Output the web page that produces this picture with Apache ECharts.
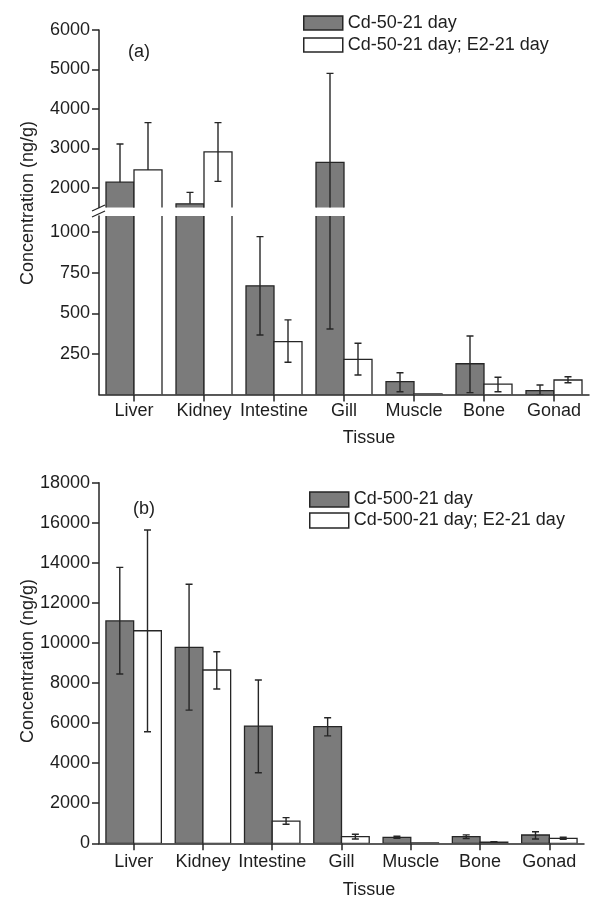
<!DOCTYPE html>
<html><head><meta charset="utf-8">
<script src="https://cdn.jsdelivr.net/npm/echarts@6/dist/echarts.min.js"></script>
<style>html,body{margin:0;padding:0;background:#fff}#c{width:594px;height:899px}</style>
</head><body><div id="c"></div>
<script>
// ---- data ----
const categories = ['Liver', 'Kidney', 'Intestine', 'Gill', 'Muscle', 'Bone', 'Gonad'];

// panel (a)
const nameA1 = 'Cd-50-21 day';
const nameA2 = 'Cd-50-21 day; E2-21 day';
const cd50      = [2140, 1590, 670, 2640, 80, 190, 25];
const cd50Low   = [2140, 1590, 367, 404, 18, 12, 0];
const cd50High  = [3110, 1880, 973, 4900, 135, 361, 59];
const cd50E2     = [2450, 2910, 326, 217, 5, 65, 90];
const cd50E2Low  = [2450, 2160, 199, 121, 5, 18, 73];
const cd50E2High = [3650, 3650, 460, 316, 5, 107, 110];

// panel (b)
const nameB1 = 'Cd-500-21 day';
const nameB2 = 'Cd-500-21 day; E2-21 day';
const cd500      = [11100, 9780, 5850, 5820, 300, 330, 415];
const cd500Low   = [8450, 6650, 3520, 5360, 250, 240, 215];
const cd500High  = [13775, 12930, 8150, 6270, 350, 420, 580];
const cd500E2     = [10610, 8650, 1110, 330, 25, 60, 250];
const cd500E2Low  = [5570, 7700, 950, 215, 25, 45, 200];
const cd500E2High = [15640, 9560, 1280, 450, 25, 75, 300];

// tick labels
const ticksAUpper = [2000, 3000, 4000, 5000, 6000];
const ticksALower = [250, 500, 750, 1000];

// ---- styling ----
const FONT = '"Liberation Sans", Arial, Helvetica, sans-serif';
const DARK = '#7b7b7b', EDGE = '#262626', TXT = '#1e1e1e';
const FS = 18;

const chart = echarts.init(document.getElementById('c'));

function barRender(side, fill) {
  return function (params, api) {
    const i = api.value(0), v = api.value(1);
    const band = api.size([1, 0])[0];
    const w = band * 0.4;
    const c = api.coord([i, v]);
    const b = api.coord([i, 0]);
    const x = side < 0 ? c[0] - w : c[0];
    return { type: 'rect', shape: { x: x, y: c[1], width: w, height: b[1] - c[1] },
      style: { fill: fill, stroke: EDGE, lineWidth: 1.3 } };
  };
}
function errRender(side) {
  return function (params, api) {
    const i = api.value(0), lo = api.value(1), hi = api.value(2), v = api.value(3);
    const band = api.size([1, 0])[0];
    const w = band * 0.4;
    const cx = api.coord([i, v])[0] + side * w / 2;
    const pLo = api.coord([i, lo])[1], pHi = api.coord([i, hi])[1];
    const cap = 3.5;
    const st = { stroke: EDGE, lineWidth: 1.4 };
    const ch = [];
    if (hi > lo) ch.push({ type: 'line', shape: { x1: cx, y1: pLo, x2: cx, y2: pHi }, style: st });
    if (hi > v) ch.push({ type: 'line', shape: { x1: cx - cap, y1: pHi, x2: cx + cap, y2: pHi }, style: st });
    if (lo < v) ch.push({ type: 'line', shape: { x1: cx - cap, y1: pLo, x2: cx + cap, y2: pLo }, style: st });
    return { type: 'group', children: ch };
  };
}
const barData = arr => arr.map((v, i) => [i, v]);
const errData = (lo, hi, v) => v.map((x, i) => [i, lo[i], hi[i], x]);

function panelSeries(gi, n1, n2, v1, l1, h1, v2, l2, h2) {
  return [
    { type: 'custom', name: n1, xAxisIndex: gi, yAxisIndex: gi, clip: true, renderItem: barRender(-1, DARK),
      itemStyle: { color: DARK, borderColor: EDGE, borderWidth: 1.3 }, encode: { x: 0, y: 1 }, data: barData(v1) },
    { type: 'custom', name: n2, xAxisIndex: gi, yAxisIndex: gi, clip: true, renderItem: barRender(1, '#ffffff'),
      itemStyle: { color: '#ffffff', borderColor: EDGE, borderWidth: 1.3 }, encode: { x: 0, y: 1 }, data: barData(v2) },
    { type: 'custom', name: n1, xAxisIndex: gi, yAxisIndex: gi, clip: true, renderItem: errRender(-1),
      encode: { x: 0, y: [1, 2] }, data: errData(l1, h1, v1), itemStyle: { color: DARK } },
    { type: 'custom', name: n2, xAxisIndex: gi, yAxisIndex: gi, clip: true, renderItem: errRender(1),
      encode: { x: 0, y: [1, 2] }, data: errData(l2, h2, v2), itemStyle: { color: '#ffffff' } }
  ];
}

// layout
const L = 99;
const gA1 = { left: L, top: 30, width: 490, height: 177.4 };
const gA2 = { left: L, top: 216, width: 490, height: 178.6 };
const gB = { left: L, top: 482.7, width: 485, height: 360.6 };

const axisLine = { show: true, lineStyle: { color: EDGE, width: 1.5 } };
const tick = { show: true, length: 7, lineStyle: { color: EDGE, width: 1.5 } };
const lbl = { color: TXT, fontFamily: FONT, fontSize: FS };
const plain = v => String(v);

function xAxis(gi, show, margin) {
  return { gridIndex: gi, type: 'category', data: categories, show: show,
    axisLine: Object.assign({ onZero: false }, axisLine),
    axisTick: Object.assign({ alignWithLabel: true }, tick),
    axisLabel: Object.assign({ margin: margin, interval: 0 }, lbl), splitLine: { show: false } };
}

const legendItem = (name, fill) => ({ name: name, icon: 'rect',
  itemStyle: { color: fill, borderColor: EDGE, borderWidth: 1.5 } });

const option = {
  animation: false,
  backgroundColor: '#fff',
  textStyle: { fontFamily: FONT },
  title: [
    { text: '(a)', left: 123, top: 38, textStyle: { fontSize: FS, fontWeight: 'normal', color: TXT, fontFamily: FONT } },
    { text: '(b)', left: 128, top: 495, textStyle: { fontSize: FS, fontWeight: 'normal', color: TXT, fontFamily: FONT } }
  ],
  legend: [
    { orient: 'vertical', left: 298, top: 9, itemWidth: 39, itemHeight: 14, itemGap: 4,
      textStyle: lbl, selectedMode: false,
      data: [legendItem(nameA1, DARK), legendItem(nameA2, '#ffffff')] },
    { orient: 'vertical', left: 304, top: 485.5, itemWidth: 39, itemHeight: 15, itemGap: 3,
      textStyle: lbl, selectedMode: false,
      data: [legendItem(nameB1, DARK), legendItem(nameB2, '#ffffff')] }
  ],
  grid: [gA1, gA2, gB],
  xAxis: [xAxis(0, false, 8), xAxis(1, true, 7), xAxis(2, true, 10)],
  yAxis: [
    { gridIndex: 0, type: 'value', min: 1500, max: 6000, axisLine: axisLine,
      axisTick: Object.assign({ customValues: ticksAUpper }, tick),
      axisLabel: Object.assign({ customValues: ticksAUpper, margin: 9, formatter: plain }, lbl), splitLine: { show: false } },
    { gridIndex: 1, type: 'value', min: 0, max: 1100, axisLine: axisLine,
      axisTick: Object.assign({ customValues: ticksALower }, tick),
      axisLabel: Object.assign({ customValues: ticksALower, margin: 9, formatter: plain }, lbl), splitLine: { show: false } },
    { gridIndex: 2, type: 'value', min: 0, max: 18000, interval: 2000, axisLine: axisLine,
      axisTick: tick, axisLabel: Object.assign({ margin: 9, formatter: plain }, lbl), splitLine: { show: false } }
  ],
  series: [].concat(
    panelSeries(0, nameA1, nameA2, cd50, cd50Low, cd50High, cd50E2, cd50E2Low, cd50E2High),
    panelSeries(1, nameA1, nameA2, cd50, cd50Low, cd50High, cd50E2, cd50E2Low, cd50E2High),
    panelSeries(2, nameB1, nameB2, cd500, cd500Low, cd500High, cd500E2, cd500E2Low, cd500E2High)
  ),
  graphic: [
    { type: 'text', x: 28, y: 203, rotation: Math.PI / 2,
      style: { text: 'Concentration (ng/g)', font: FS + 'px ' + FONT, fill: TXT, textAlign: 'center', textVerticalAlign: 'middle' } },
    { type: 'text', x: 28, y: 661, rotation: Math.PI / 2,
      style: { text: 'Concentration (ng/g)', font: FS + 'px ' + FONT, fill: TXT, textAlign: 'center', textVerticalAlign: 'middle' } },
    { type: 'text', x: 369, y: 438,
      style: { text: 'Tissue', font: FS + 'px ' + FONT, fill: TXT, textAlign: 'center', textVerticalAlign: 'middle' } },
    { type: 'text', x: 369, y: 890,
      style: { text: 'Tissue', font: FS + 'px ' + FONT, fill: TXT, textAlign: 'center', textVerticalAlign: 'middle' } },
    // axis break marks
    { type: 'line', shape: { x1: L - 7, y1: 211, x2: L + 6, y2: 205 }, style: { stroke: EDGE, lineWidth: 1.3 } },
    { type: 'line', shape: { x1: L - 7, y1: 217, x2: L + 6, y2: 211 }, style: { stroke: EDGE, lineWidth: 1.3 } }
  ]
};
chart.setOption(option);
</script>
</body></html>
